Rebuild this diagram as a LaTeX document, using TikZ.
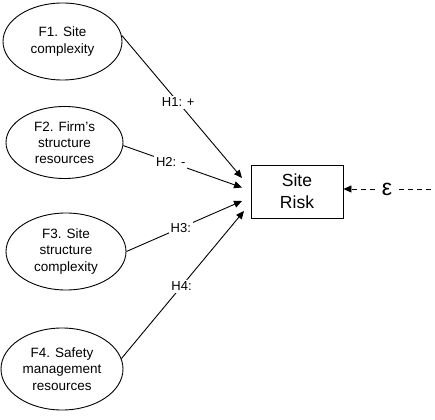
\documentclass[tikz,border=0pt]{standalone}
\usepackage{fontspec}
\setmainfont{Liberation Sans}
\usetikzlibrary{shapes.geometric,arrows.meta}
\begin{document}
\begin{tikzpicture}[x=1pt,y=1pt,
  factor/.style={draw,ellipse,line width=0.9pt,inner sep=0pt,align=center,
    font=\fontsize{13.5}{16.3}\selectfont},
  link/.style={line width=0.9pt,-{Triangle[length=8pt,width=7pt]}},
  hlab/.style={fill=white,inner sep=2pt,font=\fontsize{13}{15}\selectfont},
  riskbox/.style={draw,line width=0.9pt,minimum width=92pt,minimum height=53pt,
    inner sep=0pt,align=center,font=\fontsize{17.5}{22}\selectfont}]
\useasboundingbox (0,0) rectangle (435,-419);
\node[factor,minimum width=119pt,minimum height=77pt] (f1) at (62.5,-41.5) {F1. Site\\complexity};
\node[factor,minimum width=117pt,minimum height=72pt] (f2) at (64.5,-142.5) {F2. Firm’s\\structure\\resources};
\node[factor,minimum width=120pt,minimum height=77pt] (f3) at (66,-251.5) {F3. Site\\structure\\complexity};
\node[factor,minimum width=122pt,minimum height=82pt] (f4) at (62,-369) {F4. Safety\\management\\resources};
\node[riskbox] (risk) at (297,-191.5) {Site\\Risk};
\coordinate (t1) at (242,-178);
\coordinate (t2) at (242,-187.5);
\coordinate (t3) at (242,-201);
\coordinate (t4) at (244,-211);
\draw[link] (f1.6) -- node[hlab,pos=0.47] {H1: +} (t1);
\draw[link] (f2.-3) -- node[hlab,pos=0.40] {H2: -} (t2);
\draw[link] (f3.east) -- node[hlab,pos=0.47] {H3:} (t3);
\draw[link] (f4.10) -- node[hlab,pos=0.49] {H4:} (t4);
\node[font=\fontsize{23}{25}\selectfont,inner xsep=7pt,inner ysep=4pt] (eps) at (387,-189) {ε};
\coordinate (eend) at (435,-189);
\draw[line width=0.9pt,dash pattern=on 5pt off 4pt,-{Triangle[length=8pt,width=7pt]}] (eps.west) -- (risk.east |- eps);
\draw[line width=0.9pt,dash pattern=on 5pt off 4pt] (eps.east) -- (eend);
\end{tikzpicture}
\end{document}
